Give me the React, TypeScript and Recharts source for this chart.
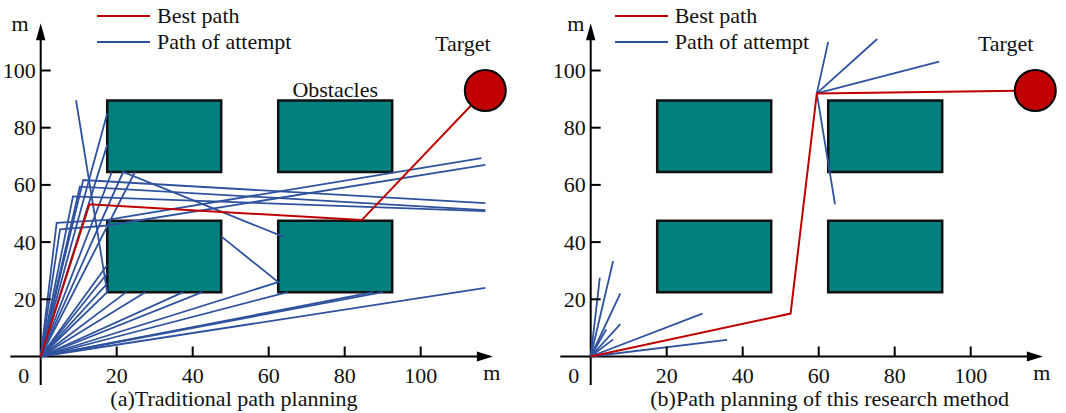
import { Legend, ReferenceArea, ReferenceDot, ReferenceLine, Scatter, ScatterChart, XAxis, YAxis } from 'recharts'

const RED = '#c00000'
const BLUE = '#2f529e'
const TEAL = '#007f7f'
const INK = '#111111'
const FONT = '"Liberation Serif", "Times New Roman", serif'
const FS = 22

type Pt = [number, number]

// axis ticks and extents (metres)
const xTicks = [20, 40, 60, 80, 100]
const yTicks = [20, 40, 60, 80, 100]
const xDomain: [number, number] = [-8, 125]
const yDomain: [number, number] = [-10, 120]
const xAxisTip = 119
const yAxisTip = 116.5

// obstacles (same in both maps)
const obstacles = [
  { x1: 17.5, x2: 47.5, y1: 64.5, y2: 89.5 },
  { x1: 62.5, x2: 92.5, y1: 64.5, y2: 89.5 },
  { x1: 17.5, x2: 47.5, y1: 22.5, y2: 47.5 },
  { x1: 62.5, x2: 92.5, y1: 22.5, y2: 47.5 },
]

const target = { x: 117, y: 93 }

// (a) traditional path planning
const attemptsA: Pt[][] = [
  [[0, 0], [17.5, 85]],
  [[0, 0], [17.5, 74]],
  [[0, 0], [18.7, 64.5]],
  [[0, 0], [21.7, 64.5], [63.8, 41.9]],
  [[0, 0], [24.8, 64.5]],
  [[0, 0], [11.2, 61.7], [117, 53.6]],
  [[0, 0], [10.3, 59.4], [117, 51.2]],
  [[0, 0], [8.5, 56], [117, 50.8]],
  [[0, 0], [4.2, 46.7], [17.5, 47.8], [116, 69.4]],
  [[0, 0], [5.1, 44.5], [17.5, 45.8], [117, 67]],
  [[0, 0], [17.5, 22.5], [9.3, 89.6]],
  [[0, 0], [17.5, 32]],
  [[0, 0], [17.5, 29]],
  [[0, 0], [17.5, 25.5]],
  [[0, 0], [22.5, 22.5]],
  [[0, 0], [27.5, 22.5]],
  [[0, 0], [37.5, 22.5]],
  [[0, 0], [42.5, 22.5]],
  [[0, 0], [62.5, 26], [47.5, 42]],
  [[0, 0], [65, 22.5]],
  [[0, 0], [87.5, 22.5]],
  [[0, 0], [90, 22.5]],
  [[0, 0], [117, 24]],
]
const bestA: Pt[] = [[0, 0], [12.8, 53.2], [84.5, 47.7], [117, 93]]

// (b) this research method
const attemptsB: Pt[][] = [
  [[0, 0], [2.4, 27.6]],
  [[0, 0], [5.9, 33.4]],
  [[0, 0], [7.8, 22.1]],
  [[0, 0], [7.8, 11.3]],
  [[0, 0], [4.1, 9.5]],
  [[0, 0], [5.9, 6]],
  [[0, 0], [29.4, 15]],
  [[0, 0], [35.9, 5.8]],
  [[59.5, 92], [62.5, 110]],
  [[59.5, 92], [75.4, 111]],
  [[59.5, 92], [91.7, 103.1]],
  [[59.5, 92], [64.3, 53.2]],
]
const bestB: Pt[] = [[0, 0], [52.6, 15], [59.5, 92], [117, 93]]

const legendItems = [
  { label: 'Best path', color: RED },
  { label: 'Path of attempt', color: BLUE },
]

const toPts = (p: Pt[]) => p.map(([x, y]) => ({ x, y }))
const noDot = () => <g />

const TargetDot = (p: any) => (
  <circle cx={p.cx} cy={p.cy} r={20.5} fill={RED} stroke="#000" strokeWidth={2} />
)

const XTick = (p: any) => (
  <g>
    <line x1={p.cx} x2={p.cx} y1={p.cy} y2={p.cy - 10} stroke="#000" strokeWidth={2} />
    <text x={p.cx} y={p.cy + 19} textAnchor="middle" dominantBaseline="central" fontSize={FS} fill={INK}>
      {p.payload.x}
    </text>
  </g>
)

const YTick = (p: any) => (
  <g>
    <line x1={p.cx} x2={p.cx + 10} y1={p.cy} y2={p.cy} stroke="#000" strokeWidth={2} />
    <text x={p.cx - 5} y={p.cy} textAnchor="end" dominantBaseline="central" fontSize={FS} fill={INK}>
      {p.payload.y}
    </text>
  </g>
)

const OriginLabel = (p: any) => (
  <text x={p.cx - 17} y={p.cy + 19} textAnchor="middle" dominantBaseline="central" fontSize={FS} fill={INK}>
    0
  </text>
)

const XArrow = (p: any) => (
  <g>
    <polygon points={`${p.cx},${p.cy} ${p.cx - 16},${p.cy - 5} ${p.cx - 16},${p.cy + 5}`} fill="#000" />
    <text x={p.cx - 1} y={p.cy + 16} textAnchor="middle" dominantBaseline="central" fontSize={FS} fill={INK}>
      m
    </text>
  </g>
)

const makeYArrow = (off: number) => (p: any) => (
  <g>
    <polygon points={`${p.cx},${p.cy} ${p.cx - 4.7},${p.cy + 17} ${p.cx + 4.7},${p.cy + 17}`} fill="#000" />
    <text x={p.cx - off} y={p.cy} textAnchor="middle" dominantBaseline="central" fontSize={FS} fill={INK}>
      m
    </text>
  </g>
)

function LegendBox() {
  return (
    <div style={{ fontFamily: FONT, color: INK }}>
      {legendItems.map((it) => (
        <div key={it.label} style={{ display: 'flex', alignItems: 'center', height: 26 }}>
          <svg width={53} height={4}>
            <line x1={0} x2={53} y1={2} y2={2} stroke={it.color} strokeWidth={2} />
          </svg>
          <span style={{ marginLeft: 7, fontSize: FS, lineHeight: '26px' }}>{it.label}</span>
        </div>
      ))}
    </div>
  )
}

type PanelProps = {
  attempts: Pt[][]
  best: Pt[]
  caption: string
  captionCenter: number
  marginLeft: number
  marginRight: number
  legendLeft: number
  yTitleOffset: number
  targetLabelX: number
  showObstacleLabel: boolean
}

function Panel(props: PanelProps) {
  const YArrow = makeYArrow(props.yTitleOffset)
  return (
    <div style={{ position: 'relative', width: 533, height: 413 }}>
      <ScatterChart
        width={533}
        height={413}
        margin={{ top: 13.3, right: props.marginRight, bottom: 27.9, left: props.marginLeft }}
      >
        <XAxis type="number" dataKey="x" domain={xDomain} hide />
        <YAxis type="number" dataKey="y" domain={yDomain} hide />
        {obstacles.map((o, i) => (
          <ReferenceArea
            key={i}
            x1={o.x1}
            x2={o.x2}
            y1={o.y1}
            y2={o.y2}
            fill={TEAL}
            fillOpacity={1}
            stroke="#111"
            strokeWidth={2.5}
            label={
              props.showObstacleLabel && i === 1
                ? { value: 'Obstacles', position: 'top', offset: 3.5, fill: INK, fontSize: FS, fontFamily: FONT }
                : undefined
            }
          />
        ))}
        <ReferenceLine segment={[{ x: xDomain[0], y: 0 }, { x: xAxisTip - 3, y: 0 }]} stroke="#000" strokeWidth={2} />
        <ReferenceLine segment={[{ x: 0, y: yDomain[0] }, { x: 0, y: yAxisTip - 4 }]} stroke="#000" strokeWidth={2} />
        {props.attempts.map((p, i) => (
          <Scatter
            key={'a' + i}
            data={toPts(p)}
            line={{ stroke: BLUE, strokeWidth: 1.8 }}
            shape={noDot}
            isAnimationActive={false}
          />
        ))}
        <Scatter data={toPts(props.best)} line={{ stroke: RED, strokeWidth: 2 }} shape={noDot} isAnimationActive={false} />
        <Scatter data={[target]} shape={TargetDot} isAnimationActive={false} />
        <Scatter data={xTicks.map((v) => ({ x: v, y: 0 }))} shape={XTick} isAnimationActive={false} />
        <Scatter data={yTicks.map((v) => ({ x: 0, y: v }))} shape={YTick} isAnimationActive={false} />
        <Scatter data={[{ x: 0, y: 0 }]} shape={OriginLabel} isAnimationActive={false} />
        <Scatter data={[{ x: xAxisTip, y: 0 }]} shape={XArrow} isAnimationActive={false} />
        <Scatter data={[{ x: 0, y: yAxisTip }]} shape={YArrow} isAnimationActive={false} />
        <ReferenceDot
          x={props.targetLabelX}
          y={109.5}
          r={0}
          fill="none"
          stroke="none"
          label={{ value: 'Target', position: 'center', fill: INK, fontSize: FS, fontFamily: FONT }}
        />
        <Legend
          layout="horizontal"
          verticalAlign="middle"
          align="center"
          content={() => <LegendBox />}
          wrapperStyle={{ top: 3, left: props.legendLeft, width: 'auto', height: 'auto' }}
        />
      </ScatterChart>
      <div
        style={{
          position: 'absolute',
          top: 386,
          left: props.captionCenter - 250,
          width: 500,
          textAlign: 'center',
          fontSize: FS,
          lineHeight: '26px',
          color: INK,
        }}
      >
        {props.caption}
      </div>
    </div>
  )
}

export default function App() {
  return (
    <div
      style={{
        position: 'absolute',
        left: 0,
        top: 0,
        width: 1066,
        height: 413,
        display: 'flex',
        background: '#fff',
        fontFamily: FONT,
      }}
    >
      <Panel
        attempts={attemptsA}
        best={bestA}
        caption="(a)Traditional path planning"
        captionCenter={234}
        marginLeft={10.3}
        marginRight={17.3}
        legendLeft={97}
        yTitleOffset={20.7}
        targetLabelX={111.1}
        showObstacleLabel
      />
      <Panel
        attempts={attemptsB}
        best={bestB}
        caption="(b)Path planning of this research method"
        captionCenter={296.6}
        marginLeft={27.3}
        marginRight={0.3}
        legendLeft={81.7}
        yTitleOffset={15}
        targetLabelX={109.2}
        showObstacleLabel={false}
      />
    </div>
  )
}
